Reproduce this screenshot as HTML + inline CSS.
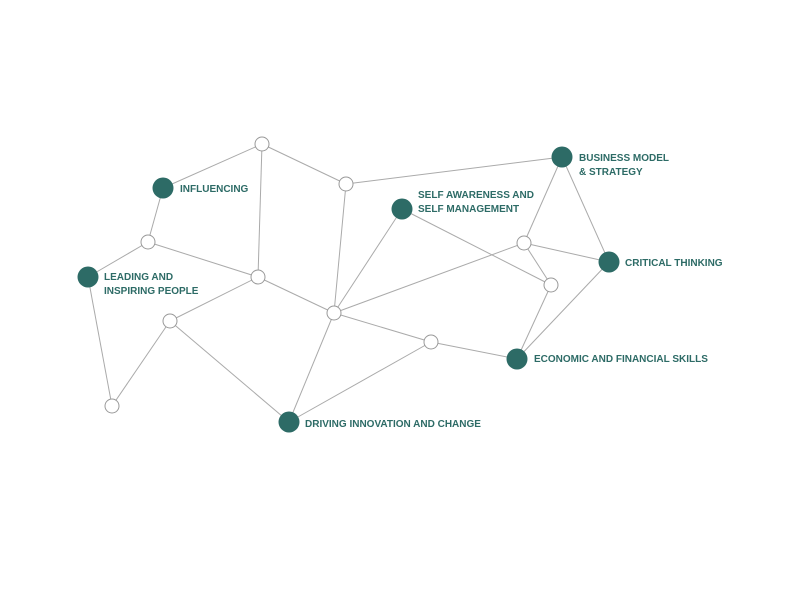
<!DOCTYPE html>
<html><head><meta charset="utf-8"><style>
html,body{margin:0;padding:0;background:#fff;}
svg{display:block;}
text{font-family:"Liberation Sans",sans-serif;font-weight:bold;font-size:10px;fill:#2d6b66;}
</style></head><body>
<svg width="800" height="600" viewBox="0 0 800 600">
<g stroke="#aaa" stroke-width="1" fill="none">
<line x1="262" y1="144" x2="346" y2="184"/>
<line x1="262" y1="144" x2="163" y2="188"/>
<line x1="262" y1="144" x2="258" y2="277"/>
<line x1="346" y1="184" x2="562" y2="157"/>
<line x1="346" y1="184" x2="334" y2="313"/>
<line x1="163" y1="188" x2="148" y2="242"/>
<line x1="148" y1="242" x2="88" y2="277"/>
<line x1="148" y1="242" x2="258" y2="277"/>
<line x1="258" y1="277" x2="334" y2="313"/>
<line x1="258" y1="277" x2="170" y2="321"/>
<line x1="88" y1="277" x2="112" y2="406"/>
<line x1="112" y1="406" x2="170" y2="321"/>
<line x1="170" y1="321" x2="289" y2="422"/>
<line x1="289" y1="422" x2="334" y2="313"/>
<line x1="289" y1="422" x2="431" y2="342"/>
<line x1="334" y1="313" x2="402" y2="209"/>
<line x1="334" y1="313" x2="524" y2="243"/>
<line x1="334" y1="313" x2="431" y2="342"/>
<line x1="431" y1="342" x2="517" y2="359"/>
<line x1="402" y1="209" x2="551" y2="285"/>
<line x1="524" y1="243" x2="562" y2="157"/>
<line x1="524" y1="243" x2="609" y2="262"/>
<line x1="524" y1="243" x2="551" y2="285"/>
<line x1="562" y1="157" x2="609" y2="262"/>
<line x1="551" y1="285" x2="517" y2="359"/>
<line x1="609" y1="262" x2="517" y2="359"/>
</g>
<g fill="#fff" stroke="#999" stroke-width="1">
<circle cx="262" cy="144" r="7"/>
<circle cx="346" cy="184" r="7"/>
<circle cx="148" cy="242" r="7"/>
<circle cx="258" cy="277" r="7"/>
<circle cx="170" cy="321" r="7"/>
<circle cx="334" cy="313" r="7"/>
<circle cx="431" cy="342" r="7"/>
<circle cx="524" cy="243" r="7"/>
<circle cx="551" cy="285" r="7"/>
<circle cx="112" cy="406" r="7"/>
</g>
<g fill="#2d6b66">
<circle cx="163" cy="188" r="10.5"/>
<circle cx="88" cy="277" r="10.5"/>
<circle cx="402" cy="209" r="10.5"/>
<circle cx="562" cy="157" r="10.5"/>
<circle cx="609" cy="262" r="10.5"/>
<circle cx="517" cy="359" r="10.5"/>
<circle cx="289" cy="422" r="10.5"/>
</g>
<text x="180" y="192">INFLUENCING</text>
<text x="104" y="280">LEADING AND</text>
<text x="104" y="294">INSPIRING PEOPLE</text>
<text x="418" y="198">SELF AWARENESS AND</text>
<text x="418" y="212">SELF MANAGEMENT</text>
<text x="579" y="161">BUSINESS MODEL</text>
<text x="579" y="175">&amp; STRATEGY</text>
<text x="625" y="266">CRITICAL THINKING</text>
<text x="534" y="362">ECONOMIC AND FINANCIAL SKILLS</text>
<text x="305" y="427">DRIVING INNOVATION AND CHANGE</text>
</svg>
</body></html>
